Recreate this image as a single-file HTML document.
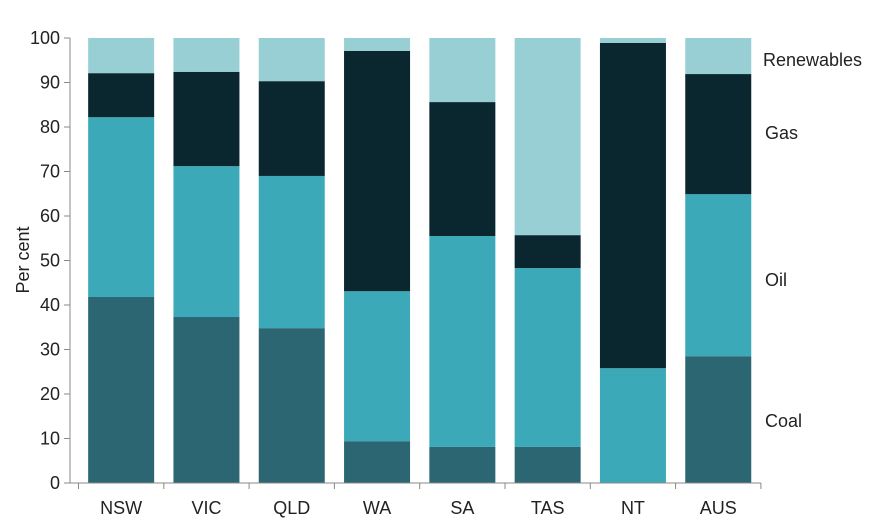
<!DOCTYPE html>
<html><head><meta charset="utf-8"><style>
body{margin:0;background:#fff;}
svg{display:block;font-family:"Liberation Sans",sans-serif;}
</style></head><body>
<svg id="chart" width="885" height="528"></svg>
<script>
const categories=["NSW","VIC","QLD","WA","SA","TAS","NT","AUS"];
const coal=[41.8,37.3,34.8,9.4,8.1,8.1,0,28.5];
const oil=[40.4,33.9,34.2,33.7,47.4,40.2,25.8,36.4];
const gas=[9.9,21.2,21.3,54.0,30.1,7.4,73.1,27.0];
const renewables=[7.9,7.6,9.7,2.9,14.4,44.3,1.1,8.1];
const yTicks=[0,10,20,30,40,50,60,70,80,90,100];
const seriesNames=["Coal","Oil","Gas","Renewables"];
const seriesColors=["#2c6673","#3ca9b8","#0a262e","#98cfd4"];
const legendVals=[13.9,45.6,78.7,95.1];

const NS="http://www.w3.org/2000/svg";
const svg=document.getElementById("chart");
const y0=483,y1=38,xL=78.5,band=85.3,bw=66;
const y=v=>y0-(v/100)*(y0-y1);
const x=i=>xL+band*i+band/2;
function mk(t,a){const e=document.createElementNS(NS,t);for(const k in a)e.setAttribute(k,a[k]);svg.appendChild(e);return e;}

yTicks.forEach(v=>{
  const t=mk("text",{x:60,y:y(v),"dominant-baseline":"central","text-anchor":"end","font-size":18,fill:"#222"});
  t.textContent=v;
  
  
  const l=mk("line",{x1:64,x2:70,y1:y(v),y2:y(v),stroke:"#888"});
  
  
});
const yt=mk("text",{x:0,y:0,transform:"translate(29,260) rotate(-90)","text-anchor":"middle","font-size":18,fill:"#222"});
yt.textContent="Per cent";



const series=[coal,oil,gas,renewables];
categories.forEach((c,i)=>{
  let base=0;
  series.forEach((s,j)=>{
    const v=s[i];
    const r=mk("rect",{x:x(i)-bw/2,y:y(base+v),width:bw,height:y(base)-y(base+v),fill:seriesColors[j]});
    
    
    base+=v;
  });
  const t=mk("text",{x:x(i),y:508,"dominant-baseline":"central","text-anchor":"middle","font-size":18,fill:"#222"});
  t.textContent=c;
  
  
});
for(let i=0;i<=categories.length;i++){
  const l=mk("line",{x1:xL+band*i,x2:xL+band*i,y1:y0,y2:y0+6,stroke:"#888"});
  
  
}
const ya=mk("line",{x1:70,x2:70,y1:y1,y2:y0,stroke:"#888"});


const xa=mk("line",{x1:70,x2:xL+band*8,y1:y0,y2:y0,stroke:"#888"});



seriesNames.forEach((n,j)=>{
  const t=mk("text",{x:n==="Renewables"?763:765,y:y(legendVals[j]),"dominant-baseline":"central","font-size":18,fill:"#222"});
  t.textContent=n;
  
  
});
</script>
</body></html>
